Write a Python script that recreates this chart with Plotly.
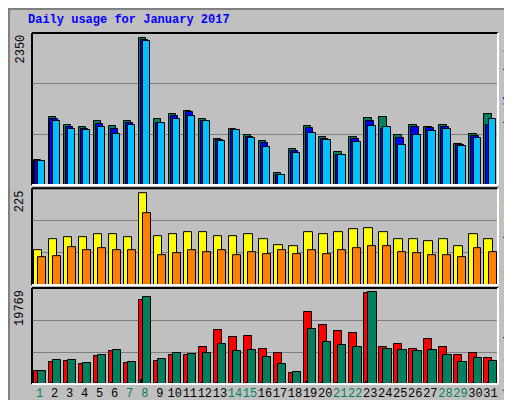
import plotly.graph_objects as go

days = list(range(1, 32))
weekend = [1, 7, 8, 14, 15, 21, 22, 28, 29]

hits = [405, 1077, 965, 933, 1013, 949, 1013, 2350, 1045, 1125, 1173, 1045, 741, 901, 805, 709,
        197, 581, 949, 773, 533, 773, 1061, 1077, 805, 965, 933, 965, 661, 821, 1125]
files = [390, 1045, 933, 901, 981, 901, 997, 2320, 997, 1093, 1157, 1013, 725, 885, 773, 677,
         165, 549, 917, 741, 485, 741, 1013, 900, 757, 933, 917, 933, 645, 789, 965]
pages = [385, 1013, 901, 885, 933, 821, 965, 2293, 997, 1045, 1093, 1013, 709, 885, 757, 613,
         165, 517, 837, 725, 485, 693, 949, 933, 645, 805, 869, 901, 629, 757, 1045]
visits = [86, 111, 118, 118, 125, 125, 118, 225, 120, 125, 130, 128, 120, 120, 125, 111,
          98, 96, 128, 125, 130, 137, 140, 130, 111, 111, 106, 111, 96, 125, 113]
sites = [67, 71, 93, 84, 89, 84, 86, 176, 74, 79, 84, 81, 86, 74, 81, 76,
         84, 76, 84, 76, 86, 91, 96, 96, 81, 79, 74, 74, 69, 91, 81]
kb_f = [2750, 4698, 4915, 4265, 5997, 7080, 4482, 18121, 4915, 6214, 6214, 7946, 11626, 10111, 10327, 7513,
        6647, 2317, 15523, 12709, 11410, 10977, 19650, 7946, 8595, 7513, 9678, 7946, 6214, 6647, 5564]
kb_out = [2750, 5131, 5131, 4482, 6214, 7296, 4698, 18771, 5348, 6647, 6430, 6647, 8595, 7080, 7296, 5781,
          4265, 2533, 11843, 9028, 8379, 7946, 19769, 7513, 7296, 7080, 7296, 6214, 4698, 5564, 4915]
kb_in = [300, 300, 300, 300, 300, 300, 300, 800, 300, 300, 300, 300, 250, 300, 250, 250,
         250, 250, 400, 250, 250, 250, 400, 300, 250, 300, 300, 300, 250, 250, 300]

fig = go.Figure()
edge = dict(color="black", width=1)

def bars(y, color, off, w, ax):
    fig.add_trace(go.Bar(x=days, y=y, offset=off, width=w, marker=dict(color=color, line=edge),
                         xaxis="x", yaxis=ax, showlegend=False))

bars(hits, "#00805C", -0.4, 0.49, "y")
bars(files, "#0000FF", -0.27, 0.49, "y")
bars(pages, "#00C0FF", -0.13, 0.49, "y")
bars(visits, "#FFFF00", -0.4, 0.57, "y2")
bars(sites, "#FF8000", -0.13, 0.53, "y2")
bars(kb_f, "#FF0000", -0.4, 0.53, "y3")
bars(kb_in, "#0000FF", -0.25, 0.08, "y3")
bars(kb_out, "#00805C", -0.13, 0.55, "y3")

ticktext = [f"<span style='color:{'#00805C' if d in weekend else 'black'}'>{d}</span>" for d in days]
yax = dict(showticklabels=False, showgrid=True, gridcolor="#808080", gridwidth=1,
           zeroline=False, ticks="", tick0=0, automargin=False)
fig.update_layout(
    width=512, height=400, barmode="overlay", bargap=0,
    paper_bgcolor="#C0C0C0", plot_bgcolor="#C0C0C0",
    margin=dict(l=24, r=22, t=25, b=24),
    font=dict(family="Liberation Mono", size=12, color="black"),
    xaxis=dict(range=[0.5, 31.5], tickvals=days, ticktext=ticktext, showgrid=False, tickangle=0,
               zeroline=False, ticks="", tickfont=dict(size=12), anchor="y3", automargin=False),
    yaxis=dict(domain=[0.567, 1.0], range=[0, 2425], dtick=2425 / 3, **yax),
    yaxis2=dict(domain=[0.282, 0.558], range=[0, 236.4], dtick=236.4 / 3, **yax),
    yaxis3=dict(domain=[0, 0.2735], range=[0, 20695], dtick=20695 / 3, **yax),
)

shapes = []
for y0, y1 in [(0.567, 1.0), (0.282, 0.558), (0, 0.2735)]:
    shapes.append(dict(type="line", xref="paper", yref="paper", x0=0, x1=0, y0=y0, y1=y1, line=dict(color="black", width=2)))
    shapes.append(dict(type="line", xref="paper", yref="paper", x0=0, x1=1, y0=y1, y1=y1, line=dict(color="black", width=2)))
    shapes.append(dict(type="line", xref="paper", yref="paper", x0=1, x1=1, y0=y0, y1=y1, line=dict(color="white", width=2)))
    shapes.append(dict(type="line", xref="paper", yref="paper", x0=0, x1=1, y0=y0, y1=y0, line=dict(color="white", width=2)))
# outer bevel
shapes.append(dict(type="rect", xref="paper", yref="paper", x0=-23 / 466, x1=1 + 21 / 466,
                   y0=-23 / 351, y1=1 + 24 / 351, line=dict(color="#808080", width=2)))
fig.update_layout(shapes=shapes)

ann = [
    dict(text="<b>Daily usage for January 2017</b>", x=-6 / 466, y=1 + 13 / 351, xanchor="left", yanchor="middle",
         font=dict(color="#0000FF", size=12)),
    dict(text="2350", x=-12 / 466, y=1.0, xanchor="center", yanchor="top", textangle=-90),
    dict(text="225", x=-12 / 466, y=0.558, xanchor="center", yanchor="top", textangle=-90),
    dict(text="19769", x=-12 / 466, y=0.2735, xanchor="center", yanchor="top", textangle=-90),
    dict(text="<span style='color:#00C0FF'>Pages</span> / <span style='color:#0000FF'>Files</span> / "
              "<span style='color:#00805C'>Hits</span>",
         x=1 + 10 / 466, y=1.0, xanchor="center", yanchor="top", textangle=-90),
    dict(text="<span style='color:#FF8000'>Sites</span> / <span style='color:#FFFF00'>Visits</span>",
         x=1 + 10 / 466, y=0.558, xanchor="center", yanchor="top", textangle=-90),
    dict(text="<span style='color:#FF0000'>KB F</span> / <span style='color:#0000FF'>KB In</span> / "
              "<span style='color:#00805C'>KB Out</span>",
         x=1 + 10 / 466, y=0.2735, xanchor="center", yanchor="top", textangle=-90),
]
for a in ann:
    a.update(xref="paper", yref="paper", showarrow=False)
ann[0]["font"] = dict(color="#0000FF", size=12)
for a in ann[4:]:
    a["font"] = dict(size=11)
fig.update_layout(annotations=ann)

fig.write_html("out.html")
